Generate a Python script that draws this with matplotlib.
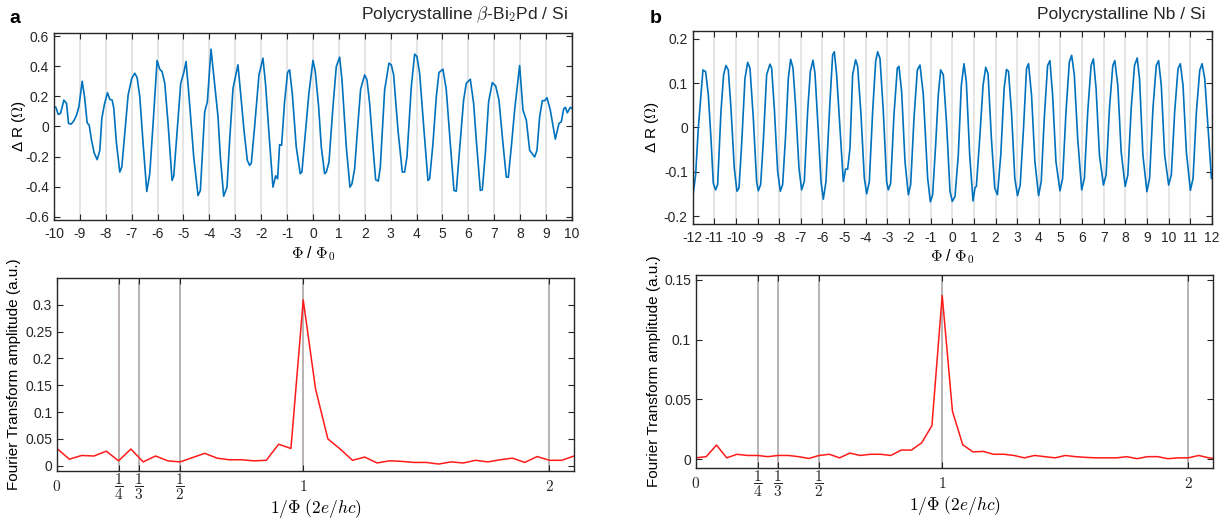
"""Flux oscillations of the magnetoresistance and their Fourier transforms for two polycrystalline films."""

import numpy as np
import matplotlib

matplotlib.use("Agg")
import matplotlib.pyplot as plt
from matplotlib.ticker import FuncFormatter

plt.rcParams["font.family"] = ["Liberation Sans", "DejaVu Sans"]
plt.rcParams["mathtext.fontset"] = "cm"
plt.rcParams["axes.unicode_minus"] = False

# panel a, top: Delta R versus flux for beta-Bi2Pd / Si
phi_a = [
    -10.00, -9.925, -9.835, -9.745, -9.617, -9.514, -9.437, -9.334, -9.231, -9.129,
    -9.039, -8.910, -8.820, -8.717, -8.640, -8.550, -8.447, -8.332, -8.229, -8.152,
    -8.049, -7.933, -7.843, -7.753, -7.689, -7.586, -7.458, -7.380, -7.265, -7.136,
    -6.995, -6.879, -6.789, -6.686, -6.558, -6.416, -6.301, -6.172, -6.018, -5.915,
    -5.825, -5.722, -5.594, -5.440, -5.375, -5.272, -5.105, -4.977, -4.900, -4.784,
    -4.604, -4.437, -4.347, -4.180, -4.077, -3.936, -3.794, -3.666, -3.576, -3.447,
    -3.319, -3.216, -3.087, -2.895, -2.805, -2.663, -2.535, -2.445, -2.380, -2.252,
    -2.085, -1.931, -1.828, -1.712, -1.545, -1.442, -1.365, -1.288, -1.211, -1.096,
    -0.980, -0.902, -0.799, -0.645, -0.491, -0.427, -0.260, -0.157, 0.000, 0.090,
    0.219, 0.322, 0.450, 0.515, 0.618, 0.772, 0.901, 1.030, 1.120, 1.287,
    1.429, 1.506, 1.609, 1.737, 1.840, 1.995, 2.085, 2.188, 2.317, 2.420,
    2.523, 2.600, 2.767, 2.934, 3.024, 3.115, 3.282, 3.449, 3.539, 3.629,
    3.797, 3.925, 4.015, 4.118, 4.286, 4.440, 4.505, 4.633, 4.762, 4.865,
    5.019, 5.148, 5.302, 5.444, 5.534, 5.637, 5.817, 5.920, 6.075, 6.203,
    6.306, 6.461, 6.538, 6.654, 6.782, 6.924, 7.053, 7.181, 7.336, 7.465,
    7.542, 7.658, 7.786, 7.979, 8.108, 8.237, 8.366, 8.559, 8.649, 8.752,
    8.855, 8.945, 9.035, 9.163, 9.357, 9.498, 9.588, 9.678, 9.743, 9.820,
    9.936, 10.00,
]
dr_a = [
    0.135, 0.127, 0.080, 0.087, 0.175, 0.153, 0.020, 0.016, 0.038, 0.075,
    0.130, 0.300, 0.198, 0.024, 0.009, -0.090, -0.175, -0.220, -0.158, 0.053,
    0.149, 0.224, 0.180, 0.175, 0.120, -0.113, -0.302, -0.269, -0.047, 0.209,
    0.320, 0.353, 0.324, 0.198, -0.113, -0.431, -0.313, 0.020, 0.438, 0.380,
    0.364, 0.287, 0.020, -0.358, -0.329, -0.091, 0.287, 0.364, 0.431, 0.198,
    -0.202, -0.458, -0.424, 0.098, 0.164, 0.513, 0.276, 0.064, -0.202, -0.462,
    -0.402, -0.091, 0.253, 0.409, 0.242, -0.024, -0.224, -0.258, -0.242, 0.000,
    0.342, 0.453, 0.276, -0.013, -0.402, -0.327, -0.347, -0.120, -0.124, 0.164,
    0.358, 0.376, 0.220, -0.136, -0.313, -0.302, 0.020, 0.220, 0.438, 0.364,
    0.131, -0.136, -0.313, -0.302, -0.236, 0.131, 0.398, 0.460, 0.309, -0.136,
    -0.402, -0.380, -0.280, 0.020, 0.247, 0.342, 0.309, 0.153, -0.136, -0.353,
    -0.362, -0.269, 0.242, 0.420, 0.409, 0.342, -0.024, -0.302, -0.302, -0.202,
    0.264, 0.480, 0.464, 0.353, -0.024, -0.358, -0.347, -0.113, 0.198, 0.358,
    0.380, 0.242, -0.113, -0.424, -0.429, -0.202, 0.176, 0.287, 0.313, 0.153,
    -0.091, -0.424, -0.420, -0.180, 0.164, 0.291, 0.269, 0.176, -0.113, -0.336,
    -0.336, -0.136, 0.109, 0.404, 0.109, 0.042, -0.158, -0.202, -0.158, 0.064,
    0.171, 0.171, 0.191, 0.109, -0.084, 0.020, 0.031, 0.116, 0.127, 0.091,
    0.127, 0.120,
]

# panel b, top: Delta R versus flux for Nb / Si
phi_b = [
    -11.971, -11.863, -11.740, -11.616, -11.524, -11.401, -11.277, -11.154, -11.046, -10.938,
    -10.846, -10.692, -10.569, -10.461, -10.353, -10.230, -10.076, -9.952, -9.860, -9.737,
    -9.582, -9.459, -9.351, -9.197, -9.043, -8.966, -8.858, -8.735, -8.581, -8.427,
    -8.350, -8.227, -8.072, -7.949, -7.841, -7.703, -7.579, -7.471, -7.364, -7.240,
    -7.086, -6.963, -6.840, -6.686, -6.562, -6.439, -6.347, -6.193, -6.069, -5.961,
    -5.838, -5.653, -5.530, -5.453, -5.345, -5.191, -5.037, -4.929, -4.837, -4.729,
    -4.606, -4.467, -4.374, -4.220, -4.066, -3.958, -3.835, -3.681, -3.542, -3.450,
    -3.342, -3.188, -3.034, -2.957, -2.849, -2.695, -2.541, -2.464, -2.341, -2.186,
    -2.032, -1.924, -1.770, -1.616, -1.493, -1.339, -1.139, -1.015, -0.908, -0.769,
    -0.646, -0.538, -0.415, -0.261, -0.106, 0.000, 0.124, 0.278, 0.417, 0.541,
    0.649, 0.804, 0.958, 1.051, 1.113, 1.267, 1.422, 1.546, 1.654, 1.808,
    1.963, 2.087, 2.241, 2.396, 2.504, 2.597, 2.736, 2.890, 3.014, 3.138,
    3.292, 3.431, 3.524, 3.663, 3.818, 3.988, 4.111, 4.250, 4.405, 4.513,
    4.637, 4.791, 4.977, 5.100, 5.255, 5.410, 5.518, 5.641, 5.796, 5.981,
    6.105, 6.260, 6.414, 6.522, 6.646, 6.801, 6.986, 7.110, 7.264, 7.419,
    7.512, 7.651, 7.805, 7.991, 8.114, 8.269, 8.423, 8.547, 8.655, 8.810,
    8.995, 9.119, 9.274, 9.428, 9.536, 9.660, 9.815, 10.000, 10.124, 10.278,
    10.433, 10.541, 10.665, 10.819, 11.005, 11.128, 11.283, 11.437, 11.546, 11.669,
    11.824, 11.978,
]
dr_b = [
    -0.148, -0.107, -0.002, 0.074, 0.130, 0.126, 0.074, -0.024, -0.126, -0.141,
    -0.129, 0.036, 0.119, 0.140, 0.130, 0.044, -0.092, -0.144, -0.137, -0.039,
    0.111, 0.147, 0.134, 0.021, -0.122, -0.143, -0.129, -0.032, 0.119, 0.143,
    0.134, 0.044, -0.099, -0.144, -0.129, -0.017, 0.111, 0.154, 0.135, 0.047,
    -0.092, -0.141, -0.122, 0.036, 0.126, 0.152, 0.123, -0.009, -0.122, -0.162,
    -0.122, 0.059, 0.164, 0.171, 0.119, -0.002, -0.122, -0.094, -0.094, -0.047,
    0.119, 0.153, 0.138, 0.029, -0.114, -0.150, -0.122, 0.036, 0.149, 0.171,
    0.156, 0.036, -0.122, -0.141, -0.126, 0.029, 0.134, 0.138, 0.081, -0.077,
    -0.152, -0.129, 0.021, 0.130, 0.141, 0.074, -0.114, -0.168, -0.152, -0.039,
    0.074, 0.130, 0.119, 0.006, -0.144, -0.167, -0.156, -0.062, 0.095, 0.144,
    0.103, -0.062, -0.166, -0.136, -0.133, -0.025, 0.095, 0.136, 0.121, -0.025,
    -0.137, -0.152, -0.062, 0.088, 0.131, 0.127, 0.035, -0.115, -0.154, -0.130,
    -0.002, 0.133, 0.144, 0.073, -0.077, -0.154, -0.122, 0.020, 0.140, 0.151,
    0.073, -0.077, -0.143, -0.115, 0.035, 0.148, 0.163, 0.118, -0.025, -0.141,
    -0.115, 0.035, 0.140, 0.155, 0.088, -0.062, -0.130, -0.107, 0.043, 0.140,
    0.151, 0.095, -0.055, -0.133, -0.107, 0.043, 0.140, 0.157, 0.110, -0.062,
    -0.145, -0.115, 0.043, 0.140, 0.151, 0.095, -0.062, -0.130, -0.107, 0.035,
    0.133, 0.144, 0.095, -0.055, -0.142, -0.115, 0.035, 0.129, 0.144, 0.110,
    -0.002, -0.115,
]

# Fourier transform amplitudes; bin spacing 1/20 (panel a) and 1/24 (panel b)
ft_a = [
    0.032, 0.012, 0.019, 0.018, 0.027, 0.009, 0.031, 0.007, 0.018, 0.009,
    0.007, 0.015, 0.023, 0.014, 0.011, 0.011, 0.009, 0.010, 0.040, 0.032,
    0.309, 0.143, 0.050, 0.031, 0.010, 0.016, 0.005, 0.009, 0.008, 0.006,
    0.006, 0.003, 0.007, 0.005, 0.010, 0.007, 0.011, 0.014, 0.006, 0.017,
    0.010, 0.010, 0.018,
]
ft_b = [
    0.001, 0.002, 0.0117, 0.001, 0.004, 0.003, 0.003, 0.002, 0.003, 0.003,
    0.002, 0.0005, 0.003, 0.004, 0.001, 0.005, 0.003, 0.004, 0.004, 0.003,
    0.0075, 0.0075, 0.0136, 0.028, 0.137, 0.040, 0.012, 0.006, 0.0064, 0.004,
    0.004, 0.003, 0.001, 0.003, 0.002, 0.001, 0.003, 0.002, 0.0014, 0.001,
    0.001, 0.001, 0.002, 0.0003, 0.002, 0.002, 0.0003, 0.001, 0.001, 0.003,
    0.001, 0.0,
]
freq_a = np.arange(len(ft_a)) / 20
freq_b = np.arange(len(ft_b)) / 24

harmonics = [0, 1 / 4, 1 / 3, 1 / 2, 1, 2]
harmonic_labels = ["$0$", r"$\dfrac{1}{4}$", r"$\dfrac{1}{3}$", r"$\dfrac{1}{2}$", "$1$", "$2$"]

BLUE = "#0072bd"
RED = "#ff1a1a"
DARK = "#262626"


def style(ax):
    ax.tick_params(direction="in", top=True, right=True, length=4, width=0.8,
                   colors=DARK, labelsize=10)
    for s in ax.spines.values():
        s.set_color(DARK)
        s.set_linewidth(1.0)
    ax.yaxis.set_major_formatter(FuncFormatter(lambda v, p: f"{v:g}"))


def osc_panel(ax, phi, dr, n, ylim, yticks, xlab_y, ylab_x):
    for k in range(-n, n + 1):
        ax.axvline(k, color="#e3e3e3", lw=1.3, zorder=0)
    ax.plot(phi, dr, color=BLUE, lw=1.2)
    ax.set_xlim(-n, n)
    ax.set_ylim(*ylim)
    ax.set_xticks(range(-n, n + 1))
    ax.set_yticks(yticks)
    style(ax)
    ax.tick_params(axis="x", pad=5)
    ax.set_xlabel(r"$\Phi$ / $\Phi_{\mathsf{0}}$", fontsize=11.5)
    ax.set_ylabel(r"Δ R ($\mathit{\Omega}$)", fontsize=11)
    ax.xaxis.set_label_coords(0.5, xlab_y)
    ax.yaxis.set_label_coords(ylab_x, 0.5)


def ft_panel(ax, freq, ft, ylim, yticks, ylab_x):
    for h in harmonics[1:]:
        ax.axvline(h, color="#b3adad", lw=1.3, zorder=0)
    ax.plot(freq, ft, color=RED, lw=1.1)
    ax.set_xlim(0, 2.1)
    ax.set_ylim(*ylim)
    ax.set_xticks(harmonics)
    ax.set_xticklabels(harmonic_labels)
    ax.set_yticks(yticks)
    style(ax)
    ax.tick_params(axis="x", labelsize=11, pad=11.5)
    for lab in ax.get_xticklabels():
        lab.set_verticalalignment("center")
    ax.set_xlabel(r"$1/\Phi\ (2e/hc)$", fontsize=12.5)
    ax.set_ylabel("Fourier Transform amplitude (a.u.)", fontsize=11)
    ax.xaxis.set_label_coords(0.5, -0.135)
    ax.yaxis.set_label_coords(ylab_x, 0.5)


fig = plt.figure(figsize=(12.29, 5.18), dpi=100)

ax1 = fig.add_axes([0.0439, 0.5753, 0.4215, 0.361])
osc_panel(ax1, phi_a, dr_a, 10, (-0.62, 0.62), [-0.6, -0.4, -0.2, 0, 0.2, 0.4, 0.6],
          -0.128, -0.050)

ax2 = fig.add_axes([0.0464, 0.0907, 0.4207, 0.3726])
ft_panel(ax2, freq_a, ft_a, (-0.01, 0.35), [0, 0.05, 0.1, 0.15, 0.2, 0.25, 0.3], -0.070)

ax3 = fig.add_axes([0.5636, 0.5676, 0.4225, 0.3726])
osc_panel(ax3, phi_b, dr_b, 12, (-0.218, 0.218), [-0.2, -0.1, 0, 0.1, 0.2],
          -0.119, -0.061)

ax4 = fig.add_axes([0.5663, 0.0965, 0.4207, 0.3726])
ft_panel(ax4, freq_b, ft_b, (-0.0075, 0.154), [0, 0.05, 0.1, 0.15], -0.068)

fig.text(0.008, 0.965, "a", fontsize=14, fontweight="bold", va="center")
fig.text(0.529, 0.965, "b", fontsize=14, fontweight="bold", va="center")
fig.text(0.462, 0.972, r"Polycrystalline $\beta$-Bi$_{\mathsf{2}}$Pd / Si",
         fontsize=12.5, ha="right", va="center", color=DARK)
fig.text(0.9805, 0.972, "Polycrystalline Nb / Si",
         fontsize=12.5, ha="right", va="center", color=DARK)

fig.savefig("out.png", dpi=100)
